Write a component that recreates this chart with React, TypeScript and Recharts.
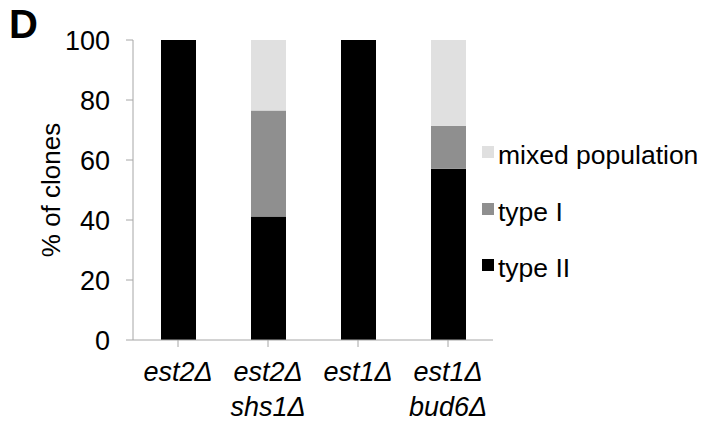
import { Bar, BarChart, XAxis, YAxis } from "recharts";

const categories = ["est2Δ", "est2Δ\nshs1Δ", "est1Δ", "est1Δ\nbud6Δ"];
const typeII = [100, 41.2, 100, 57.1];
const typeI = [0, 35.3, 0, 14.3];
const mixed = [0, 23.5, 0, 28.6];
const yTicks = [0, 20, 40, 60, 80, 100];

const FONT = "Arial, 'Liberation Sans', Helvetica, sans-serif";
const AXIS = "#a6a6a6";

const series = [
  { key: "mixed", name: "mixed population", color: "#e0e0e0" },
  { key: "typeI", name: "type I", color: "#8f8f8f" },
  { key: "typeII", name: "type II", color: "#000000" },
];

const data = categories.map((c, i) => ({
  name: c,
  typeII: typeII[i],
  typeI: typeI[i],
  mixed: mixed[i],
}));

function CategoryTick({ x, y, payload }: any) {
  const lines = String(payload.value).split("\n");
  return (
    <text x={x} y={y} textAnchor="middle" fontSize={27} fontStyle="italic" fontFamily={FONT} fill="#000">
      {lines.map((l, i) => (
        <tspan key={i} x={x} dy={i === 0 ? 32 : 35}>
          {l}
        </tspan>
      ))}
    </text>
  );
}

function LegendBox() {
  return (
    <div style={{ position: "absolute", left: 482, top: 146, fontFamily: FONT, fontSize: 26.5, color: "#000" }}>
      {series.map((s) => (
        <div key={s.key} style={{ position: "relative", height: 56.5 }}>
          <div style={{ position: "absolute", left: 0, top: 0, width: 12, height: 12, background: s.color }} />
          <div style={{ position: "absolute", left: 16, top: -6, whiteSpace: "nowrap", lineHeight: "30px" }}>{s.name}</div>
        </div>
      ))}
    </div>
  );
}

export default function App() {
  return (
    <div style={{ position: "absolute", left: 0, top: 0, width: 706, height: 422, background: "#fff" }}>
      <div style={{ position: "absolute", left: 9, top: 2, fontFamily: FONT, fontSize: 40, fontWeight: "bold" }}>D</div>
      <BarChart
        width={706}
        height={422}
        data={data}
        margin={{ top: 40, right: 213, left: 0, bottom: 0 }}
        barSize={35}
      >
        <XAxis
          dataKey="name"
          stroke={AXIS}
          tickLine={{ stroke: AXIS }}
          tickSize={7}
          tick={<CategoryTick />}
          interval={0}
          height={82}
        />
        <YAxis
          domain={[0, 100]}
          ticks={yTicks}
          width={133}
          stroke={AXIS}
          tickLine={{ stroke: AXIS }}
          tickSize={7}
          tickMargin={16}
          tick={{ fontSize: 27, fill: "#000", fontFamily: FONT }}
          label={{
            value: "% of clones",
            angle: -90,
            position: "center",
            dx: -16,
            style: { fontSize: 26, fill: "#000", fontFamily: FONT, textAnchor: "middle" },
          }}
        />
        <Bar dataKey="typeII" stackId="a" fill="#000000" isAnimationActive={false} />
        <Bar dataKey="typeI" stackId="a" fill="#8f8f8f" isAnimationActive={false} />
        <Bar dataKey="mixed" stackId="a" fill="#e0e0e0" isAnimationActive={false} />
      </BarChart>
      <LegendBox />
    </div>
  );
}
